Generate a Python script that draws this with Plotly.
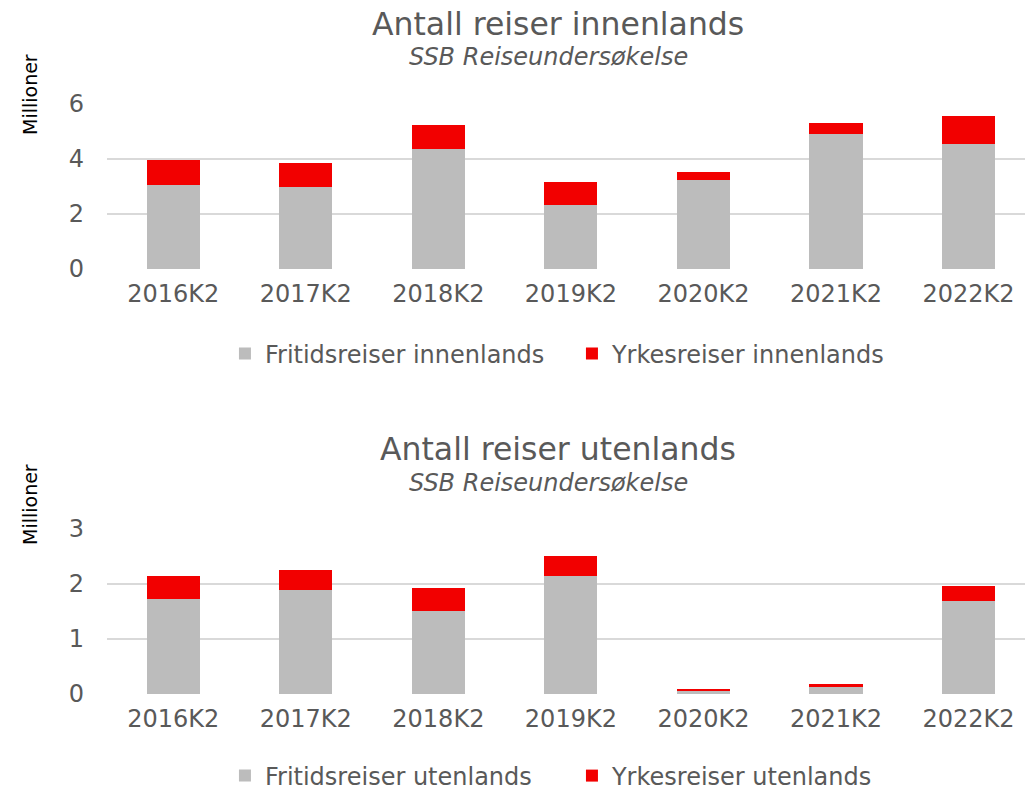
import plotly.graph_objects as go

categories = ["2016K2", "2017K2", "2018K2", "2019K2", "2020K2", "2021K2", "2022K2"]
fritid_inn = [3.03, 2.96, 4.36, 2.33, 3.24, 4.88, 4.54]
yrke_inn = [0.91, 0.89, 0.86, 0.81, 0.27, 0.40, 1.00]
fritid_ut = [1.73, 1.89, 1.51, 2.15, 0.055, 0.12, 1.70]
yrke_ut = [0.42, 0.36, 0.42, 0.36, 0.035, 0.07, 0.26]

GRAY = "#bcbcbc"
RED = "#f20000"
TXT = "#595959"
FONT = "DejaVu Sans, Verdana, sans-serif"
W, H = 1025, 790


def py(px):
    return 1 - px / H


fig = go.Figure()
fig.add_bar(x=categories, y=fritid_inn, name="Fritidsreiser innenlands",
            marker=dict(color=GRAY, line=dict(width=0)), xaxis="x", yaxis="y", legend="legend")
fig.add_bar(x=categories, y=yrke_inn, name="Yrkesreiser innenlands",
            marker=dict(color=RED, line=dict(width=0)), xaxis="x", yaxis="y", legend="legend")
fig.add_bar(x=categories, y=fritid_ut, name="Fritidsreiser utenlands",
            marker=dict(color=GRAY, line=dict(width=0)), xaxis="x2", yaxis="y2", legend="legend2")
fig.add_bar(x=categories, y=yrke_ut, name="Yrkesreiser utenlands",
            marker=dict(color=RED, line=dict(width=0)), xaxis="x2", yaxis="y2", legend="legend2")

xcommon = dict(domain=[107 / W, 1], range=[-0.5, 6.426], showgrid=False,
               showline=False, zeroline=False, ticks="",
               tickfont=dict(family=FONT, size=24, color=TXT), ticklabelstandoff=8)
ycommon = dict(showgrid=True, gridcolor="#d9d9d9", gridwidth=1.5, zeroline=False,
               showline=False, ticks="", tickfont=dict(family=FONT, size=24, color=TXT),
               ticklabelstandoff=22)

legcommon = dict(orientation="h", xanchor="center", yanchor="middle", x=0.558,
                 font=dict(family=FONT, size=24, color=TXT), bgcolor="rgba(0,0,0,0)",
                 entrywidth=302, traceorder="normal")

fig.update_layout(
    width=W, height=H, margin=dict(l=0, r=0, t=0, b=0, autoexpand=False),
    paper_bgcolor="white", plot_bgcolor="white",
    barmode="stack", bargap=0.6,
    xaxis=dict(anchor="y", **xcommon),
    yaxis=dict(anchor="x", domain=[py(269), py(103.3)], range=[0, 6], dtick=2, **ycommon),
    xaxis2=dict(anchor="y2", **xcommon),
    yaxis2=dict(anchor="x2", domain=[py(694), py(529)], range=[0, 3], dtick=1, **ycommon),
    legend=dict(y=py(354), **legcommon),
    legend2=dict(y=py(776), **legcommon),
)

annots = [
    ("Antall reiser innenlands", 558, 24, 31.5, False),
    ("SSB Reiseundersøkelse", 548, 57, 24, True),
    ("Antall reiser utenlands", 558, 449, 31.5, False),
    ("SSB Reiseundersøkelse", 548, 483, 24, True),
]
for text, x, y, size, it in annots:
    fig.add_annotation(text=f"<i>{text}</i>" if it else text, x=x / W, y=py(y),
                       xref="paper", yref="paper", showarrow=False,
                       xanchor="center", yanchor="middle",
                       font=dict(family=FONT, size=size, color=TXT))

for y in (95, 505):
    fig.add_annotation(text="Millioner", x=30 / W, y=py(y), xref="paper", yref="paper",
                       showarrow=False, textangle=-90, xanchor="center", yanchor="middle",
                       font=dict(family=FONT, size=19, color="black"))

fig.write_html("out.html", config={"displayModeBar": False},
               post_script="document.body.style.margin='0';document.body.style.overflow='hidden';")
